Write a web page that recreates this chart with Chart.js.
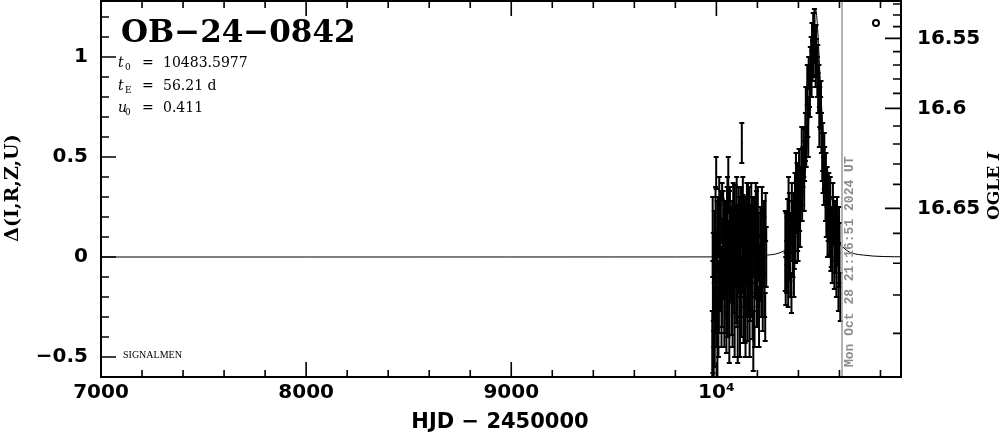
<!DOCTYPE html>
<html>
<head>
<meta charset="utf-8">
<script src="https://cdn.jsdelivr.net/npm/chart.js@4.4.1/dist/chart.umd.min.js"></script>
<style>
  html, body { margin: 0; padding: 0; background: #fff; }
  canvas { display: block; }
</style>
</head>
<body>
<canvas id="lc" width="1004" height="434"></canvas>
<script>
// photometry (HJD - 2450000, delta, error); 2023 season then 2024 season
const hjd = [
  9980, 9983, 9987, 9990, 9994, 9999, 10002, 10005, 10008, 10012,
  10015, 10018, 10022, 10025, 10028, 10031, 10034, 10037, 10040, 10044,
  10047, 10050, 10054, 10058, 10061, 10064, 10068, 10071, 10074, 10077,
  10080, 10084, 10087, 10090, 10094, 10097, 10100, 10104, 10107, 10110,
  10113, 10117, 10120, 10124, 10127, 10130, 10134, 10137, 10140, 10144,
  10147, 10150, 10154, 10157, 10160, 10164, 10168, 10172, 10176, 10180,
  10184, 10188, 10192, 10196, 10200, 10205, 10210, 10216, 10222, 10226,
  10232, 10238, 10243,
  9982, 9985, 9992, 9996, 10000, 10004, 10010, 10014, 10020, 10027,
  10033, 10039, 10043, 10049, 10052, 10056, 10063, 10066, 10073, 10079,
  10082, 10089, 10092, 10099, 10102, 10109, 10115, 10119, 10122, 10129,
  10132, 10139, 10142, 10149, 10152, 10159, 10162, 10170, 10174, 10178,
  10186, 10190, 10198, 10202, 10208, 10214, 10220, 10229, 10235, 10240,
  10336, 10340, 10343, 10347, 10350, 10353, 10356, 10360, 10363, 10366,
  10370, 10373, 10376, 10380, 10383, 10386, 10390, 10393, 10396, 10400,
  10403, 10406, 10410, 10414, 10418, 10422, 10426, 10430, 10434, 10438,
  10443, 10446, 10450, 10454, 10458, 10462, 10466, 10469, 10472, 10476,
  10480, 10484, 10488, 10492, 10496, 10500, 10504, 10508, 10512, 10516,
  10520, 10524, 10528, 10532, 10536, 10540, 10545, 10550, 10555, 10560,
  10565, 10570, 10575, 10580, 10585, 10590, 10595, 10600, 10604,
  10338, 10345, 10352, 10358, 10368, 10378, 10388, 10398, 10408, 10416,
  10428, 10436, 10448, 10456, 10464, 10474, 10478, 10486, 10494, 10502,
  10510, 10518, 10526, 10534, 10542, 10548, 10558, 10568, 10578, 10588,
  10598
];
const dI = [
  -0.45, -0.30, -0.52, 0.05, -0.15, 0.42, -0.05, -0.40, 0.15, -0.20,
  0.05, -0.10, 0.20, -0.25, 0.33, 0.00, -0.05, 0.10, -0.15, 0.12,
  0.05, -0.10, 0.25, 0.36, 0.00, 0.10, -0.05, 0.08, -0.20, 0.15,
  0.00, 0.05, -0.10, 0.18, 0.02, -0.12, 0.10, -0.32, 0.05, -0.05,
  0.12, -0.15, 0.20, 0.57, 0.00, 0.10, -0.08, 0.15, -0.20, 0.05,
  0.10, -0.10, 0.20, 0.00, 0.08, -0.15, 0.12, 0.00, -0.20, -0.42,
  0.15, 0.05, 0.22, 0.11, -0.05, 0.05, -0.12, 0.00, 0.20, -0.15,
  0.10, -0.30, 0.00,
  0.10, -0.10, -0.35, 0.20, -0.25, 0.10, -0.30, 0.25, -0.05, -0.15,
  0.18, -0.25, 0.02, -0.30, 0.15, -0.20, -0.35, 0.20, 0.05, -0.25,
  0.22, -0.30, 0.05, 0.25, -0.15, 0.15, -0.30, 0.00, -0.20, 0.25,
  -0.25, 0.10, -0.35, 0.22, -0.22, 0.15, -0.30, 0.25, -0.10, 0.10,
  -0.25, 0.00, -0.20, 0.15, -0.30, 0.10, -0.10, 0.05, -0.10, 0.20,
  0.03, 0.12, -0.05, 0.15, -0.15, 0.05, 0.20, -0.05, 0.10, -0.18,
  0.15, 0.05, 0.22, 0.08, 0.30, 0.12, 0.25, 0.35, 0.18, 0.30,
  0.42, 0.25, 0.35, 0.40, 0.30, 0.45, 0.52, 0.48, 0.60, 0.55,
  0.86, 0.70, 0.92, 0.85, 0.95, 1.02, 1.10, 0.98, 1.15, 1.12,
  1.05, 0.95, 1.00, 0.90, 0.82, 0.88, 0.75, 0.72, 0.62, 0.50,
  0.42, 0.38, 0.45, 0.30, 0.25, 0.35, 0.20, 0.15, 0.28, 0.10,
  0.05, 0.18, 0.00, 0.12, -0.05, 0.08, -0.10, 0.02, -0.20,
  -0.12, 0.08, 0.28, 0.00, 0.25, -0.05, 0.40, 0.10, 0.20, 0.55,
  0.35, 0.75, 0.62, 0.80, 0.90, 1.00, 1.18, 1.08, 0.98, 0.65,
  0.80, 0.55, 0.48, 0.40, 0.12, 0.30, 0.05, 0.22, 0.10, 0.15,
  0.05
];
const dIerr = [
  0.18, 0.28, 0.15, 0.18, 0.23, 0.08, 0.18, 0.21, 0.15, 0.18,
  0.21, 0.17, 0.13, 0.20, 0.04, 0.19, 0.16, 0.18, 0.23, 0.15,
  0.17, 0.19, 0.15, 0.14, 0.18, 0.23, 0.17, 0.15, 0.19, 0.13,
  0.23, 0.15, 0.18, 0.18, 0.15, 0.21, 0.16, 0.21, 0.19, 0.13,
  0.18, 0.15, 0.15, 0.10, 0.18, 0.21, 0.17, 0.15, 0.23, 0.19,
  0.16, 0.19, 0.17, 0.30, 0.18, 0.17, 0.13, 0.18, 0.21, 0.15,
  0.15, 0.18, 0.15, 0.22, 0.16, 0.17, 0.18, 0.22, 0.15, 0.22,
  0.18, 0.12, 0.15,
  0.20, 0.22, 0.20, 0.15, 0.20, 0.18, 0.20, 0.15, 0.22, 0.20,
  0.15, 0.20, 0.20, 0.18, 0.20, 0.20, 0.18, 0.15, 0.20, 0.20,
  0.15, 0.20, 0.20, 0.15, 0.20, 0.20, 0.20, 0.20, 0.20, 0.15,
  0.18, 0.20, 0.15, 0.15, 0.20, 0.20, 0.20, 0.12, 0.20, 0.20,
  0.20, 0.20, 0.15, 0.20, 0.15, 0.15, 0.20, 0.20, 0.20, 0.12,
  0.20, 0.10, 0.13, 0.14, 0.10, 0.15, 0.12, 0.15, 0.12, 0.10,
  0.13, 0.15, 0.10, 0.14, 0.12, 0.15, 0.13, 0.12, 0.15, 0.14,
  0.12, 0.12, 0.10, 0.14, 0.12, 0.10, 0.12, 0.10, 0.12, 0.10,
  0.10, 0.10, 0.08, 0.10, 0.10, 0.08, 0.07, 0.10, 0.07, 0.10,
  0.08, 0.10, 0.09, 0.10, 0.10, 0.08, 0.10, 0.08, 0.10, 0.12,
  0.10, 0.12, 0.10, 0.12, 0.15, 0.10, 0.12, 0.14, 0.12, 0.15,
  0.18, 0.12, 0.16, 0.14, 0.15, 0.12, 0.17, 0.15, 0.12,
  0.12, 0.12, 0.12, 0.12, 0.12, 0.15, 0.12, 0.12, 0.15, 0.10,
  0.12, 0.10, 0.12, 0.10, 0.10, 0.10, 0.06, 0.08, 0.08, 0.10,
  0.08, 0.12, 0.14, 0.12, 0.12, 0.12, 0.12, 0.15, 0.18, 0.15,
  0.20
];

// model curve
const modelHjd = [7000, 8000, 9000, 9500, 9800, 10000, 10100, 10200, 10250, 10300,
  10340, 10380, 10420, 10440, 10460, 10475, 10483.6, 10492, 10507, 10527,
  10547, 10587, 10627, 10667, 10717, 10767, 10867, 10900];
const modelDelta = [0, 0, 0.0001, 0.0002, 0.0003, 0.0005, 0.0013, 0.0044, 0.0096, 0.018,
  0.040, 0.098, 0.289, 0.508, 0.869, 1.168, 1.237, 1.168, 0.869, 0.508,
  0.289, 0.098, 0.040, 0.018, 0.0096, 0.0044, 0.0013, 0.001];

// small open marker top right
const markerHjd = [10778];
const markerDelta = [1.17];

// right axis: OGLE I magnitude ticks and where they sit on the delta scale
const rightTickMag = [16.52, 16.53, 16.54, 16.55, 16.56, 16.57, 16.58, 16.59, 16.60,
  16.61, 16.62, 16.63, 16.64, 16.65, 16.66, 16.67, 16.68, 16.69];
const rightTickDelta = [1.265, 1.21, 1.152, 1.093, 1.027, 0.960, 0.890, 0.818, 0.743,
  0.655, 0.565, 0.465, 0.363, 0.243, 0.118, -0.031, -0.190, -0.382];
const rightTickLabels = ['', '', '', '16.55', '', '', '', '', '16.6',
  '', '', '', '', '16.65', '', '', '', ''];

const nowHjd = 10612.4;
const nowLabel = 'Mon Oct 28 21:16:51 2024 UT';
const eventName = 'OB\u221224\u22120842';
const params = [
  ['t', '0', '10483.5977'],
  ['t', 'E', '56.21 d'],
  ['u', '0', '0.411']
];

const tickFont = { family: 'DejaVu Sans', weight: 'bold', size: 20 };

function noPad(s) {
  s.paddingTop = 0;
  s.paddingBottom = 0;
  s.paddingLeft = 0;
  s.paddingRight = 0;
}

const decorations = {
  id: 'decorations',
  beforeDraw(chart) {
    const c = chart.ctx;
    c.save();
    c.fillStyle = '#fff';
    c.fillRect(0, 0, chart.width, chart.height);
    c.restore();
  },
  afterDatasetsDraw(chart) {
    const { ctx, chartArea: a, scales: { x, y } } = chart;
    ctx.save();
    ctx.beginPath();
    ctx.rect(a.left, a.top, a.right - a.left, a.bottom - a.top);
    ctx.clip();
    ctx.strokeStyle = '#000';
    ctx.lineWidth = 2;
    hjd.forEach((t, i) => {
      const px = x.getPixelForValue(t);
      const lo = y.getPixelForValue(dI[i] - dIerr[i]);
      const hi = y.getPixelForValue(dI[i] + dIerr[i]);
      ctx.beginPath();
      ctx.moveTo(px, lo); ctx.lineTo(px, hi);
      ctx.moveTo(px - 2.5, lo); ctx.lineTo(px + 2.5, lo);
      ctx.moveTo(px - 2.5, hi); ctx.lineTo(px + 2.5, hi);
      ctx.stroke();
    });
    // "now" line
    const nx = x.getPixelForValue(nowHjd);
    ctx.strokeStyle = '#9a9a9a';
    ctx.lineWidth = 1.5;
    ctx.beginPath();
    ctx.moveTo(nx, a.top); ctx.lineTo(nx, a.bottom);
    ctx.stroke();
    ctx.restore();

    ctx.save();
    ctx.translate(nx + 8, a.bottom - 10);
    ctx.rotate(-Math.PI / 2);
    ctx.fillStyle = '#8c8c8c';
    ctx.font = 'bold 13px "Liberation Mono"';
    ctx.textBaseline = 'middle';
    ctx.textAlign = 'left';
    ctx.fillText(nowLabel, 0, 0);
    ctx.restore();
  },
  afterDraw(chart) {
    const { ctx, chartArea: a, scales } = chart;
    ctx.save();
    ctx.strokeStyle = '#000';
    ctx.lineWidth = 2;
    ctx.strokeRect(a.left, a.top, a.right - a.left, a.bottom - a.top);

    ctx.lineWidth = 1.6;
    ctx.beginPath();
    scales.x.ticks.forEach(t => {
      const px = scales.x.getPixelForValue(t.value);
      if (px <= a.left + 1 || px >= a.right - 1) return;
      const len = t.value % 1000 === 0 ? 15 : 7;
      ctx.moveTo(px, a.bottom); ctx.lineTo(px, a.bottom - len);
      ctx.moveTo(px, a.top); ctx.lineTo(px, a.top + len);
    });
    scales.y.ticks.forEach(t => {
      const py = scales.y.getPixelForValue(t.value);
      if (py <= a.top + 1 || py >= a.bottom - 1) return;
      const len = t.label ? 15 : 8;
      ctx.moveTo(a.left, py); ctx.lineTo(a.left + len, py);
    });
    scales.y2.ticks.forEach((t, i) => {
      const py = scales.y2.getPixelForValue(t.value);
      if (py <= a.top + 1 || py >= a.bottom - 1) return;
      const len = rightTickLabels[i] ? 16 : 8;
      ctx.moveTo(a.right, py); ctx.lineTo(a.right - len, py);
    });
    ctx.stroke();

    ctx.fillStyle = '#000';

    // title and fit parameters
    ctx.font = 'bold 31px "DejaVu Serif"';
    ctx.textBaseline = 'alphabetic';
    ctx.fillText(eventName, 121, 42);
    params.forEach((p, i) => {
      const base = 67 + i * 22.5;
      ctx.font = 'italic 14px "DejaVu Serif"';
      ctx.fillText(p[0], 118, base);
      ctx.font = '9px "DejaVu Serif"';
      ctx.fillText(p[1], 125, base + 3);
      ctx.font = '14px "DejaVu Serif"';
      ctx.fillText('=', 142, base);
      ctx.fillText(p[2], 163, base);
    });

    ctx.font = '10px "Liberation Serif"';
    ctx.fillText('SIGNALMEN', 123, 358);

    // axis titles
    ctx.font = 'bold 21px "DejaVu Sans"';
    ctx.textAlign = 'center';
    ctx.textBaseline = 'middle';
    ctx.fillText('HJD \u2212 2450000', 500, 423);

    ctx.save();
    ctx.translate(13, 188);
    ctx.rotate(-Math.PI / 2);
    ctx.font = 'bold 19px "DejaVu Serif"';
    ctx.fillText('\u0394(I,R,Z,U)', 0, 0);
    ctx.restore();

    ctx.save();
    ctx.translate(995, 186);
    ctx.rotate(-Math.PI / 2);
    ctx.textAlign = 'left';
    ctx.font = 'bold 17px "DejaVu Serif"';
    const w1 = ctx.measureText('OGLE ').width;
    ctx.font = 'bold italic 17px "DejaVu Serif"';
    const w2 = ctx.measureText('I').width;
    ctx.font = 'bold 17px "DejaVu Serif"';
    ctx.fillText('OGLE ', -(w1 + w2) / 2, 0);
    ctx.font = 'bold italic 17px "DejaVu Serif"';
    ctx.fillText('I', -(w1 + w2) / 2 + w1, 0);
    ctx.restore();

    ctx.restore();
  }
};

const ctx = document.getElementById('lc');
new Chart(ctx, {
  type: 'scatter',
  data: {
    datasets: [
      {
        type: 'line',
        data: modelHjd.map((t, i) => ({ x: t, y: modelDelta[i] })),
        borderColor: '#000',
        borderWidth: 1,
        pointRadius: 0,
        cubicInterpolationMode: 'monotone',
        order: 3
      },
      {
        data: hjd.map((t, i) => ({ x: t, y: dI[i] })),
        pointRadius: 1.2,
        pointStyle: 'rect',
        backgroundColor: '#000',
        borderWidth: 0,
        order: 1
      },
      {
        data: markerHjd.map((t, i) => ({ x: t, y: markerDelta[i] })),
        pointRadius: 3,
        borderColor: '#000',
        borderWidth: 2,
        backgroundColor: '#fff',
        order: 2
      }
    ]
  },
  options: {
    responsive: false,
    animation: false,
    devicePixelRatio: 1,
    layout: { autoPadding: false, padding: { top: 1, left: 0, right: 0, bottom: 0 } },
    plugins: { legend: { display: false }, tooltip: { enabled: false } },
    scales: {
      x: {
        type: 'linear',
        position: 'bottom',
        min: 7000,
        max: 10900,
        afterFit: s => { s.height = 57; noPad(s); },
        grid: { display: false, drawTicks: false },
        border: { display: false },
        ticks: {
          stepSize: 200,
          autoSkip: false,
          maxRotation: 0,
          includeBounds: false,
          padding: 4,
          color: '#000',
          font: tickFont,
          callback: v => v % 1000 === 0 ? (v === 10000 ? '10\u2074' : String(v)) : ''
        }
      },
      y: {
        type: 'linear',
        position: 'left',
        min: -0.6,
        max: 1.28,
        afterFit: s => { s.width = 101; noPad(s); },
        grid: { display: false, drawTicks: false },
        border: { display: false },
        ticks: {
          stepSize: 0.1,
          autoSkip: false,
          includeBounds: false,
          padding: 13,
          color: '#000',
          font: tickFont,
          callback: v => {
            const r = Math.round(v * 10) / 10;
            if (Math.abs(r * 2 - Math.round(r * 2)) > 1e-6) return '';
            return r < 0 ? '\u2212' + Math.abs(r) : String(r);
          }
        }
      },
      y2: {
        type: 'linear',
        position: 'right',
        min: -0.6,
        max: 1.28,
        afterFit: s => { s.width = 103; noPad(s); },
        afterBuildTicks: s => { s.ticks = rightTickDelta.map(v => ({ value: v })); },
        grid: { display: false, drawTicks: false },
        border: { display: false },
        ticks: {
          autoSkip: false,
          padding: 16,
          color: '#000',
          font: tickFont,
          callback: (v, i) => rightTickLabels[i]
        }
      }
    }
  },
  plugins: [decorations]
});
</script>
</body>
</html>
